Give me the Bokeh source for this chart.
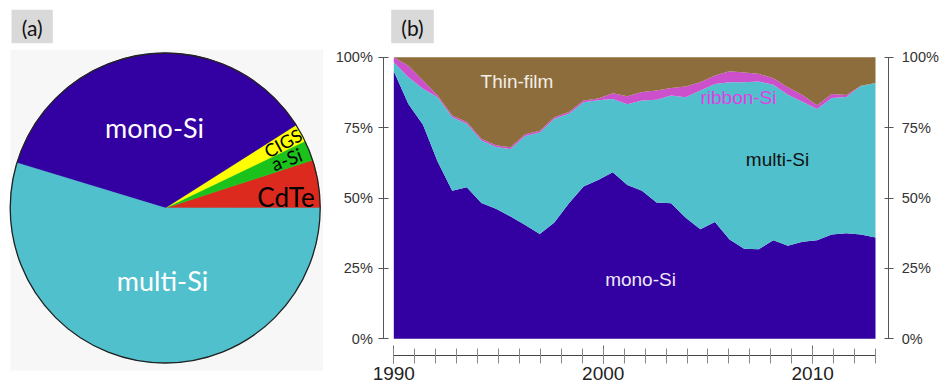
import math
from bokeh.plotting import figure
from bokeh.models import ColumnDataSource, Range1d, LinearAxis, FixedTicker
from bokeh.core.properties import value
from bokeh.embed import file_html
from bokeh.resources import INLINE

# ---------------- data ----------------
# (a) market share 2013, percent
pie_labels = ["CdTe", "a-Si", "CIGS", "mono-Si", "multi-Si"]
pie_shares = [5.0, 2.1, 1.9, 36.3, 54.7]
pie_colors = ["#dc2b1e", "#1cc21c", "#ffff00", "#3300a1", "#50c0cd"]

# (b) market share by technology, percent, one value per year
years = list(range(1980, 2014))
mono = [95.0, 83.4, 76.0, 63.0, 52.6, 53.8, 48.2, 46.2, 43.4, 40.4, 37.2, 41.3,
        48.1, 54.1, 56.4, 59.1, 54.6, 52.6, 48.4, 48.1, 43.0, 38.9, 41.5, 35.3,
        32.0, 31.8, 35.0, 33.0, 34.5, 35.0, 37.0, 37.5, 37.0, 36.0]
multi = [3.2, 9.5, 12.8, 22.8, 26.1, 22.6, 22.2, 21.9, 24.0, 31.6, 36.1, 36.8,
         31.8, 29.9, 28.3, 26.1, 28.7, 32.0, 36.5, 38.3, 42.8, 49.3, 49.0, 55.8,
         59.1, 59.6, 55.2, 53.7, 49.7, 46.6, 48.5, 48.4, 52.8, 54.8]
ribbon = [1.8, 4.1, 2.9, 0.6, 0.6, 0.6, 0.6, 0.6, 0.6, 0.6, 0.6, 0.6,
          0.6, 0.6, 0.6, 2.0, 2.8, 3.0, 3.3, 2.7, 3.8, 2.9, 3.0, 3.9,
          3.5, 2.7, 2.3, 2.6, 2.4, 1.3, 1.4, 0.7, 0.1, 0.0]
thin = [round(100 - a - b - c, 1) for a, b, c in zip(mono, multi, ribbon)]
area_names = ["mono", "multi", "ribbon", "thin"]
area_colors = ["#3300a1", "#50c0cd", "#cc4fcc", "#8c6d3b"]

axis_years = list(range(1990, 2014))
year_ticks = [1990, 2000, 2010]
year_labels = ["1990", "2000", "2010"]
pct_ticks = [0, 25, 50, 75, 100]
pct_labels = ["0%", "25%", "50%", "75%", "100%"]

# ---------------- layout (page pixels) ----------------
W, H = 941, 388
PX0, PX1, PY0, PY1 = 0, W, H, 0                    # canvas edges in page px
AX0, AX1 = 393.3, 875.0                            # area left/right
AY0, AY1 = 338.3, 56.7                             # 0% and 100%
LEFT_AX, RIGHT_AX, BOTTOM_AX = 383.3, 888.3, 355.0


def lin(v0, v1, p0, p1):
    k = (v1 - v0) / (p1 - p0)
    return lambda p: v0 + (p - p0) * k


yr = lin(year_ticks[0], axis_years[-1], AX0, AX1)
dyr = lin(years[0], years[-1], AX0, AX1)
pc = lin(0, 100, AY0, AY1)

p = figure(width=W, height=H, output_backend="svg", toolbar_location=None,
           x_range=Range1d(PX0, PX1), y_range=Range1d(PY0, PY1),
           x_axis_location=None, y_axis_location=None, min_border=0,
           min_border_left=0, min_border_right=0, min_border_top=0,
           min_border_bottom=0, outline_line_color=None)
p.grid.visible = False
p.extra_x_ranges = {"yr": Range1d(yr(PX0), yr(PX1)),
                    "data": Range1d(dyr(PX0), dyr(PX1))}
p.extra_y_ranges = {"pct": Range1d(pc(PY0), pc(PY1))}

# ---------------- (a) pie ----------------
p.quad(left=[10], right=[322.7], top=[49.3], bottom=[370], fill_color="#f7f7f7",
       line_color=None)
cx, cy, R = 164.7, 207.5, 155
tot = sum(pie_shares)
starts, ends, acc = [], [], 0.0
for s in pie_shares:
    starts.append(2 * math.pi * acc / tot)
    acc += s
    ends.append(2 * math.pi * acc / tot)
src_pie = ColumnDataSource(dict(start=starts, end=ends, color=pie_colors))
p.wedge(x=cx, y=cy, radius=R, start_angle="start", end_angle="end",
        fill_color="color", line_color="color", line_width=0.6, source=src_pie)
p.circle(x=[cx], y=[cy], radius=R, fill_color=None, line_color="#222222",
         line_width=1.3)

# pie labels (CdTe, a-Si, CIGS, mono-Si, multi-Si)
pl_x = [285.5, 286.0, 282.5, 154.0, 162.0]
pl_y = [196.5, 158.5, 142.5, 127.0, 280.0]
pl_size = ["26px", "19px", "18px", "27px", "27px"]
pl_col = ["black", "black", "black", "white", "white"]
pl_ang = [0, math.radians(21), math.radians(28.5), 0, 0]
for i in range(len(pie_labels)):
    p.text(x=[pl_x[i]], y=[pl_y[i]], text=[pie_labels[i]], angle=pl_ang[i],
           text_font=value("Lato"), text_font_size=pl_size[i],
           text_color=pl_col[i], text_align="center", text_baseline="middle")

# panel tags
for (l, r, t) in [(11, 52.3, "(a)"), (390.7, 433.3, "(b)")]:
    p.quad(left=[l], right=[r], top=[9.3], bottom=[42.7], fill_color="#d9d9d9",
           line_color=None)
    p.text(x=[(l + r) / 2], y=[26.5], text=[t], text_font=value("Lato"),
           text_font_size="21px", text_color="#111111", text_align="center",
           text_baseline="middle")

# ---------------- (b) stacked area ----------------
src = ColumnDataSource(dict(year=years, mono=mono, multi=multi, ribbon=ribbon,
                            thin=thin))
p.varea_stack(stackers=area_names, x="year", color=area_colors, source=src,
              x_range_name="data", y_range_name="pct")

lab_font = value("Liberation Sans")
area_text = [("Thin-film", 516.5, 80.5, "#f3eee6"),
             ("ribbon-Si", 738.0, 97.0, "#e23fe4"),
             ("multi-Si", 777.0, 159.0, "#111111"),
             ("mono-Si", 640.0, 278.5, "#ece8f8")]
for t, x, y, c in area_text:
    p.text(x=[x], y=[y], text=[t], text_font=lab_font, text_font_size="19px",
           text_color=c, text_align="center", text_baseline="middle")

overrides = {t: l for t, l in zip(pct_ticks, pct_labels)}

left = LinearAxis(x_range_name="yr", y_range_name="pct", fixed_location=yr(LEFT_AX),
                  bounds=(0, 100), ticker=FixedTicker(ticks=pct_ticks, minor_ticks=[]),
                  major_label_overrides=overrides)
right = LinearAxis(x_range_name="yr", y_range_name="pct", fixed_location=yr(RIGHT_AX),
                   bounds=(0, 100), ticker=FixedTicker(ticks=pct_ticks, minor_ticks=[]),
                   major_label_overrides=overrides)
for ax, tin, tout, so in [(left, 5, 5, 6), (right, 4, 5, 8)]:
    ax.axis_line_color = "#555555"
    ax.major_tick_line_color = "#555555"
    ax.major_tick_in = tin
    ax.major_tick_out = tout
    ax.minor_tick_line_color = None
    ax.major_label_standoff = so
    ax.major_label_text_font = "Liberation Sans"
    ax.major_label_text_font_size = "14.5px"
    ax.major_label_text_color = "#333333"
p.add_layout(left, "left")
p.add_layout(right, "right")

bottom = LinearAxis(x_range_name="yr", y_range_name="pct", fixed_location=pc(BOTTOM_AX),
                    bounds=(axis_years[0], axis_years[-1]),
                    ticker=FixedTicker(ticks=year_ticks, minor_ticks=axis_years),
                    major_label_overrides={t: l for t, l in zip(year_ticks, year_labels)})
bottom.axis_line_color = "#444444"
bottom.major_tick_line_color = "#666666"
bottom.minor_tick_line_color = "#888888"
bottom.major_tick_in = 10
bottom.major_tick_out = 8
bottom.minor_tick_in = 7
bottom.minor_tick_out = 8
bottom.major_label_standoff = 3
bottom.major_label_text_font = "Liberation Sans"
bottom.major_label_text_font_size = "19px"
bottom.major_label_text_color = "#222222"
p.add_layout(bottom, "below")

open("out.html", "w").write(file_html(p, INLINE))
